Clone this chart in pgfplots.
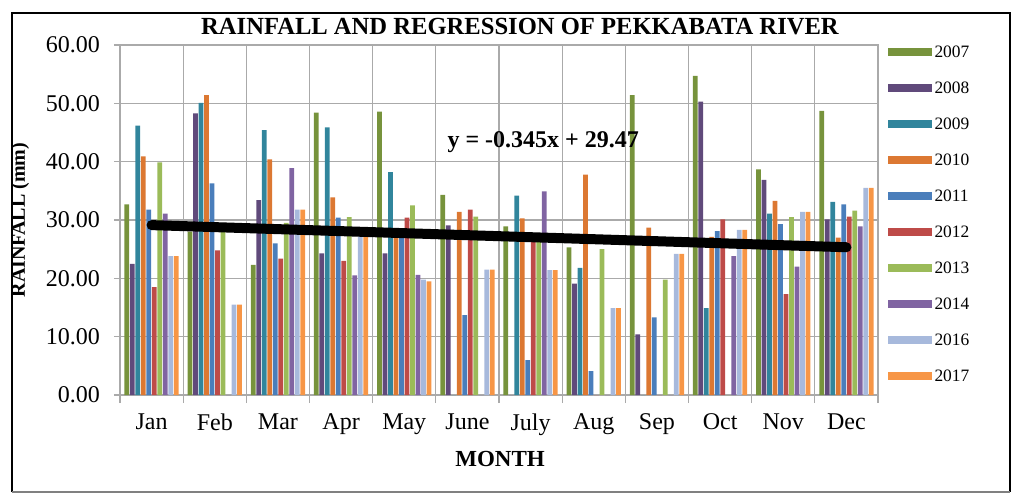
\documentclass[border=0pt]{standalone}
\usepackage{fontspec}
\setmainfont{Liberation Serif}
\usepackage{pgfplots}
\pgfplotsset{compat=1.18}
\usepackage{pgfplotstable}
\definecolor{c07}{RGB}{119,147,60}
\definecolor{c08}{RGB}{96,74,123}
\definecolor{c09}{RGB}{49,133,156}
\definecolor{c10}{RGB}{220,120,50}
\definecolor{c11}{RGB}{74,126,187}
\definecolor{c12}{RGB}{190,75,72}
\definecolor{c13}{RGB}{155,187,89}
\definecolor{c14}{RGB}{128,100,162}
\definecolor{c16}{RGB}{167,185,220}
\definecolor{c17}{RGB}{247,150,70}
\definecolor{gridgray}{RGB}{170,170,170}
\pgfplotstableread{
x  y07  y08  y09  y10  y11  y12  y13  y14  y16  y17
0  32.7 22.5 46.2 40.9 31.8 18.5 39.9 31.1 23.8 23.8
1  28.0 48.3 50.1 51.4 36.3 24.8 28.0 0    15.5 15.5
2  22.3 33.4 45.4 40.4 26.0 23.4 29.5 38.9 31.8 31.8
3  48.4 24.3 45.9 33.9 30.4 23.0 30.5 20.5 27.2 27.5
4  48.6 24.3 38.2 27.0 27.0 30.4 32.5 20.6 19.8 19.5
5  34.3 29.1 0    31.4 13.7 31.8 30.6 0    21.5 21.5
6  28.9 0    34.2 30.3 6.0  27.0 26.5 34.9 21.4 21.4
7  25.3 19.1 21.8 37.8 4.1  0    25.0 0    14.9 14.9
8  51.4 10.4 0    28.7 13.3 0    19.8 0    24.2 24.2
9  54.7 50.3 14.9 27.1 28.1 30.1 0    23.8 28.3 28.3
10 38.7 36.9 31.1 33.3 29.3 17.3 30.5 22.0 31.4 31.4
11 48.7 30.1 33.1 27.0 32.7 30.6 31.6 28.9 35.5 35.5
}\rain
\begin{document}
\begin{tikzpicture}
\useasboundingbox (-60pt,-49.5pt) rectangle (447.5pt,197.5pt);
\begin{axis}[
  at={(0,0)}, anchor=south west,
  scale only axis, width=379pt, height=175pt,
  xmin=-0.5, xmax=11.5, ymin=0, ymax=60,
  ybar=0.35pt, bar width=2.4pt,
  xtick={0,...,11},
  xticklabels={Jan,Feb,Mar,Apr,May,June,July,Aug,Sep,Oct,Nov,Dec},
  minor xtick={-0.5,0.5,...,11.5},
  ytick={0,10,...,60},
  xminorgrids=true, ymajorgrids=true, xmajorgrids=false,
  tick pos=left, tick align=outside,
  major x tick style={draw=none},
  minor tick length=4pt, major tick length=3pt,
  every tick/.style={gridgray, line width=0.6pt},
  minor x tick style={gridgray, line width=0.6pt},
  grid style={gridgray, line width=0.6pt},
  minor grid style={gridgray, line width=0.6pt},
  axis line style={gridgray, line width=0.6pt},
  yticklabel={\pgfmathprintnumber[fixed,fixed zerofill,precision=2]{\tick}},
  /pgf/number format/assume math mode=true,
  ticklabel style={font=\fontsize{12}{14}\selectfont},
  yticklabel style={xshift=-3.5pt},
  xticklabel style={yshift=-3pt},
  legend style={draw=none, fill=none, at={(1.012,1.009)}, anchor=north west,
    font=\fontsize{8.7}{10}\selectfont, row sep=9pt, inner sep=0pt,
    nodes={inner sep=1.5pt, text height=6pt, text depth=0pt}},
  legend cell align=left,
  legend image code/.code={\fill[#1] (0pt,-2.5pt) rectangle (22pt,1.5pt);},
]
\addplot[fill=c07, draw=none] table[x=x,y=y07]{\rain};
\addplot[fill=c08, draw=none] table[x=x,y=y08]{\rain};
\addplot[fill=c09, draw=none] table[x=x,y=y09]{\rain};
\addplot[fill=c10, draw=none] table[x=x,y=y10]{\rain};
\addplot[fill=c11, draw=none] table[x=x,y=y11]{\rain};
\addplot[fill=c12, draw=none] table[x=x,y=y12]{\rain};
\addplot[fill=c13, draw=none] table[x=x,y=y13]{\rain};
\addplot[fill=c14, draw=none] table[x=x,y=y14]{\rain};
\addplot[fill=c16, draw=none] table[x=x,y=y16]{\rain};
\addplot[fill=c17, draw=none] table[x=x,y=y17]{\rain};
\legend{2007,2008,2009,2010,2011,2012,2013,2014,2016,2017}
\addplot[sharp plot, black, line width=5pt, line cap=round, forget plot] coordinates {(0,29.125) (11,25.33)};
\node[font=\bfseries\fontsize{12}{14}\selectfont] at (axis cs:6.2,43.4) {y = -0.345x + 29.47};
\end{axis}
\node[font=\bfseries\fontsize{12.3}{14}\selectfont] at (200pt,184pt) {RAINFALL AND REGRESSION OF PEKKABATA RIVER};
\node[rotate=90, font=\bfseries\fontsize{10}{12}\selectfont] at (-50pt,87.5pt) {RAINFALL (mm)};
\node[font=\bfseries\fontsize{11.5}{13}\selectfont] at (190pt,-32pt) {MONTH};
\draw[black, line width=1pt] (-54pt,-48.5pt) -- (-54pt,191pt) -- (445pt,191pt) -- (445pt,-48.5pt);
\draw[gray, line width=1pt] (-54pt,-48.5pt) -- (445pt,-48.5pt);
\end{tikzpicture}
\end{document}
